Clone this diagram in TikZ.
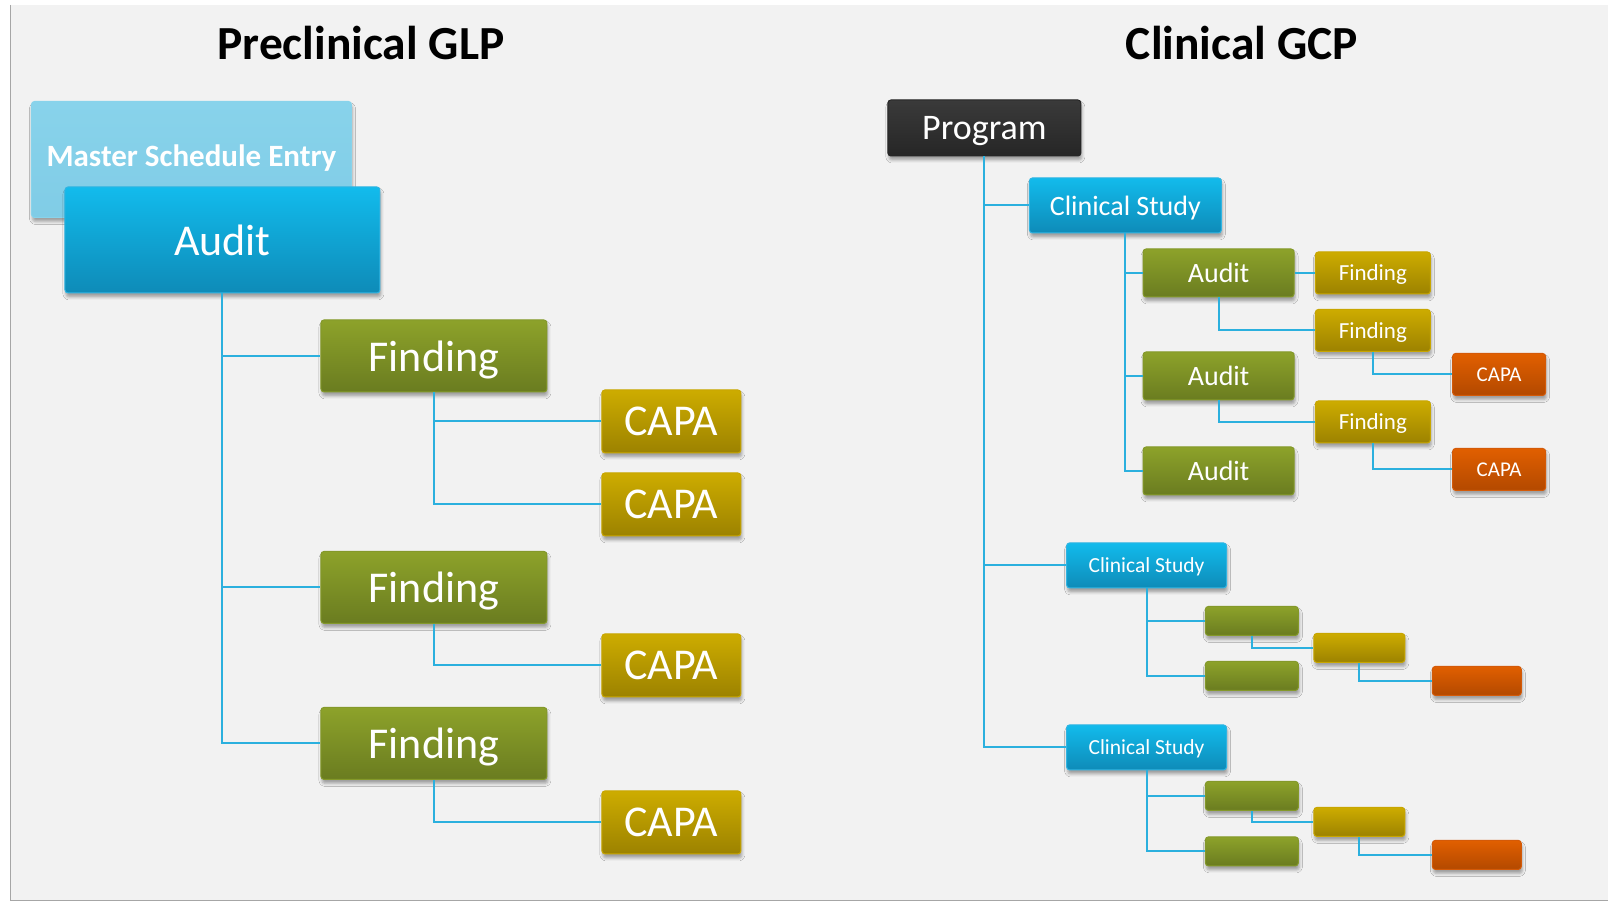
\documentclass[tikz,border=0pt]{standalone}
\usepackage{fontspec}
\setmainfont{Carlito}
\usetikzlibrary{shadows.blur}
\definecolor{slidebg}{HTML}{F2F2F2}
\definecolor{slideedge}{HTML}{A6A6A6}
\definecolor{linkblue}{HTML}{2BB0DE}
\definecolor{paleTop}{HTML}{88D3EB}
\definecolor{paleBot}{HTML}{80CCE6}
\definecolor{blueTop}{HTML}{12BBEC}
\definecolor{blueBot}{HTML}{0E8BB8}
\definecolor{blueEdge}{HTML}{30B4E2}
\definecolor{greenTop}{HTML}{8DA22A}
\definecolor{greenBot}{HTML}{6A7C20}
\definecolor{greenEdge}{HTML}{84992A}
\definecolor{yellowTop}{HTML}{CDAC00}
\definecolor{yellowBot}{HTML}{9C8200}
\definecolor{yellowEdge}{HTML}{C8A600}
\definecolor{orangeTop}{HTML}{E15F00}
\definecolor{orangeBot}{HTML}{B34900}
\definecolor{orangeEdge}{HTML}{D45A08}
\definecolor{darkTop}{HTML}{3A3A3A}
\definecolor{darkBot}{HTML}{262626}
\begin{document}
\begin{tikzpicture}[x=1pt,y=-1pt,
  box/.style={rectangle, rounded corners=3pt, line width=1pt, inner sep=0pt, text=white,
    text depth=0pt,
    blur shadow={shadow xshift=1pt, shadow yshift=-4pt, shadow blur radius=3pt, shadow opacity=35}},
  palebox/.style={box, top color=paleTop, bottom color=paleBot, draw=paleTop},
  bluebox/.style={box, top color=blueTop, bottom color=blueBot, draw=blueEdge},
  greenbox/.style={box, top color=greenTop, bottom color=greenBot, draw=greenEdge},
  yellowbox/.style={box, top color=yellowTop, bottom color=yellowBot, draw=yellowEdge},
  orangebox/.style={box, top color=orangeTop, bottom color=orangeBot, draw=orangeEdge},
  darkbox/.style={box, top color=darkTop, bottom color=darkBot, draw=darkBot},
  link/.style={draw=linkblue, line width=2pt},
  heading/.style={font=\fontsize{47.5}{56}\selectfont\bfseries}]

  % slide
  \fill[white] (0,0) rectangle (1608,902);
  \fill[slidebg] (10,5) rectangle (1608,900);
  \draw[slideedge] (10,5) -- (10,900) -- (1608,900);

  \node[heading] (glp) at (361,43) {Preclinical GLP};
  \node[heading] (gcp) at (1242,43) {Clinical GCP};

  % preclinical GLP
  \node[palebox, text depth={}, minimum width=320, minimum height=116, font=\fontsize{31}{36}\selectfont\bfseries,
    anchor=north west] (mse) at (31,101) {\raisebox{8pt}{Master Schedule Entry}};
  \begin{scope}[every node/.append style={font=\fontsize{44}{52}\selectfont}]
    \node[bluebox, minimum width=315, minimum height=106] (audit) at (222.5,240) {Audit};
    \node[greenbox, minimum width=226, minimum height=72] (find1) at (434,356) {Finding};
    \node[greenbox, minimum width=226, minimum height=72] (find2) at (434,587.5) {Finding};
    \node[greenbox, minimum width=226, minimum height=72] (find3) at (434,743.5) {Finding};
    \node[yellowbox, minimum width=139, minimum height=63] (capa1) at (671.5,421.5) {CAPA};
    \node[yellowbox, minimum width=139, minimum height=63] (capa2) at (671.5,504.5) {CAPA};
    \node[yellowbox, minimum width=139, minimum height=63] (capa3) at (671.5,665.5) {CAPA};
    \node[yellowbox, minimum width=139, minimum height=63] (capa4) at (671.5,822.5) {CAPA};
  \end{scope}
  \draw[link] (audit.south) |- (find1.west);
  \draw[link] (audit.south) |- (find2.west);
  \draw[link] (audit.south) |- (find3.west);
  \draw[link] (find1.south) |- (capa1.west);
  \draw[link] (find1.south) |- (capa2.west);
  \draw[link] (find2.south) |- (capa3.west);
  \draw[link] (find3.south) |- (capa4.west);

  % clinical GCP
  \node[darkbox, minimum width=193, minimum height=56, font=\fontsize{36}{43}\selectfont] (prog) at (984.5,128) {Program};
  \node[bluebox, minimum width=192, minimum height=55, font=\fontsize{28}{34}\selectfont] (study1) at (1125.5,205.5) {Clinical Study};
  \begin{scope}[every node/.append style={font=\fontsize{28}{34}\selectfont, minimum width=151, minimum height=48}]
    \node[greenbox] (aud1) at (1218.7,273) {Audit};
    \node[greenbox] (aud2) at (1218.7,376) {Audit};
    \node[greenbox] (aud3) at (1218.7,471) {Audit};
  \end{scope}
  \begin{scope}[every node/.append style={font=\fontsize{23}{28}\selectfont, minimum width=115, minimum height=42}]
    \node[yellowbox] (fnd1) at (1373,273) {Finding};
    \node[yellowbox] (fnd2) at (1373,330.5) {Finding};
    \node[yellowbox] (fnd3) at (1373,422) {Finding};
  \end{scope}
  \begin{scope}[every node/.append style={font=\fontsize{21}{25}\selectfont, minimum width=93, minimum height=42}]
    \node[orangebox] (cap1) at (1499.3,374.5) {CAPA};
    \node[orangebox] (cap2) at (1499.3,469.5) {CAPA};
  \end{scope}
  \draw[link] (prog.south) |- (study1.west);
  \draw[link] (study1.south) |- (aud1.west);
  \draw[link] (study1.south) |- (aud2.west);
  \draw[link] (study1.south) |- (aud3.west);
  \draw[link] (aud1.east) -- (fnd1.west);
  \draw[link] (aud1.south) |- (fnd2.west);
  \draw[link] (fnd2.south) |- (cap1.west);
  \draw[link] (aud2.south) |- (fnd3.west);
  \draw[link] (fnd3.south) |- (cap2.west);

  \begin{scope}[every node/.append style={font=\fontsize{21.5}{26}\selectfont, minimum width=160, minimum height=45}]
    \node[bluebox] (study2) at (1146.7,565.5) {Clinical Study};
    \node[bluebox] (study3) at (1146.7,747.5) {Clinical Study};
  \end{scope}
  \begin{scope}[every node/.append style={minimum height=29}]
    \node[greenbox, minimum width=93] (g21) at (1252,621) {};
    \node[greenbox, minimum width=93] (g22) at (1252,676) {};
    \node[yellowbox, minimum width=91] (y21) at (1359.5,648) {};
    \node[orangebox, minimum width=89] (o21) at (1477,681) {};
    \node[greenbox, minimum width=93] (g31) at (1252,796) {};
    \node[greenbox, minimum width=93] (g32) at (1252,851.5) {};
    \node[yellowbox, minimum width=91] (y31) at (1359.5,822) {};
    \node[orangebox, minimum width=89] (o31) at (1477,855) {};
  \end{scope}
  \draw[link] (prog.south) |- (study2.west);
  \draw[link] (prog.south) |- (study3.west);
  \draw[link] (study2.south) |- (g21.west);
  \draw[link] (study2.south) |- (g22.west);
  \draw[link] (g21.south) |- (y21.west);
  \draw[link] (y21.south) |- (o21.west);
  \draw[link] (study3.south) |- (g31.west);
  \draw[link] (study3.south) |- (g32.west);
  \draw[link] (g31.south) |- (y31.west);
  \draw[link] (y31.south) |- (o31.west);
\end{tikzpicture}
\end{document}
